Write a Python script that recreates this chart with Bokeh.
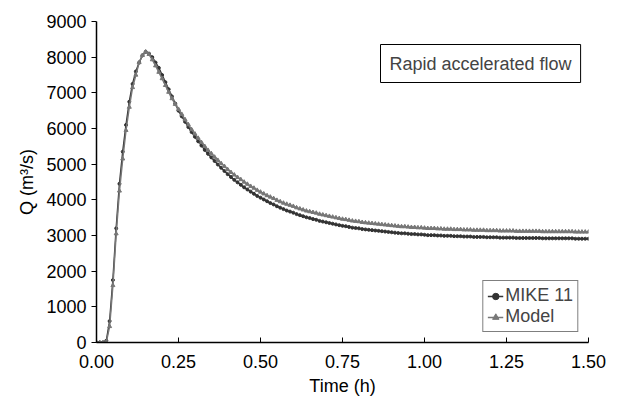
from bokeh.plotting import figure
from bokeh.models import Label, Range1d, FixedTicker, Legend, LegendItem
from bokeh.embed import file_html
from bokeh.resources import INLINE

time_h = [round(i * 0.01, 2) for i in range(151)]

mike11 = [
    0, 0, 0, 50, 600, 1750, 3200, 4450, 5350, 6100, 6750, 7250, 7600, 7850, 8050, 8150,
    8100, 8000, 7850, 7700, 7500, 7300, 7100, 6900, 6700,
    6500, 6340, 6190, 6040, 5900, 5770, 5640, 5520, 5400, 5290, 5190, 5090, 4990, 4900, 4810,
    4720, 4640, 4560, 4490, 4420, 4350, 4290, 4230, 4170, 4110, 4060, 4010, 3960, 3910, 3870,
    3820, 3780, 3740, 3700, 3670, 3640, 3600, 3570, 3540, 3510, 3490, 3460, 3440, 3410, 3390,
    3370, 3350, 3330, 3310, 3290, 3270, 3260, 3240, 3220, 3210, 3200, 3180, 3170, 3160, 3150,
    3140, 3130, 3120, 3110, 3100, 3090, 3080, 3070, 3060, 3060, 3050, 3040, 3040, 3030, 3030,
    3020, 3010, 3010, 3010, 3000, 3000, 2990, 2990, 2990, 2980, 2980, 2980, 2970, 2970, 2970,
    2960, 2960, 2960, 2960, 2950, 2950, 2950, 2950, 2940, 2940, 2940, 2940, 2940, 2930, 2930,
    2930, 2930, 2930, 2930, 2930, 2930, 2920, 2920, 2920, 2920, 2920, 2920, 2920, 2920, 2920,
    2920, 2910, 2910, 2910, 2910, 2910,
]

model = [
    0, 0, 0, 20, 450, 1600, 3050, 4250, 5150, 5950, 6600, 7150, 7500, 7850, 8050, 8150,
    8080, 7930, 7760, 7580, 7400, 7210, 7020, 6840, 6680,
    6540, 6400, 6250, 6110, 5970, 5850, 5730, 5610, 5500, 5390, 5300, 5200, 5110, 5020, 4940,
    4850, 4770, 4700, 4630, 4570, 4500, 4440, 4380, 4330, 4270, 4220, 4170, 4120, 4080, 4040,
    3990, 3950, 3910, 3880, 3850, 3820, 3780, 3750, 3720, 3690, 3670, 3650, 3630, 3600, 3580,
    3560, 3540, 3520, 3500, 3480, 3460, 3450, 3430, 3410, 3400, 3390, 3370, 3360, 3350, 3340,
    3330, 3320, 3310, 3300, 3290, 3280, 3270, 3260, 3250, 3250, 3240, 3230, 3230, 3220, 3220,
    3210, 3200, 3200, 3200, 3190, 3190, 3180, 3180, 3180, 3170, 3170, 3170, 3160, 3160, 3160,
    3150, 3150, 3150, 3150, 3140, 3140, 3140, 3140, 3130, 3130, 3130, 3130, 3130, 3120, 3120,
    3120, 3120, 3120, 3120, 3120, 3120, 3110, 3110, 3110, 3110, 3110, 3110, 3110, 3110, 3110,
    3110, 3100, 3100, 3100, 3100, 3100,
]

x_ticks = [0, 0.25, 0.5, 0.75, 1.0, 1.25, 1.5]
y_ticks = list(range(0, 9001, 1000))

FONT = "Liberation Sans"

p = figure(width=610, height=398, output_backend="svg", toolbar_location=None,
           x_range=Range1d(0, 1.5), y_range=Range1d(0, 9000),
           min_border_left=96, min_border_right=22, min_border_top=21, min_border_bottom=48)
p.grid.visible = False
p.outline_line_color = None

p.xaxis.ticker = FixedTicker(ticks=x_ticks)
p.yaxis.ticker = FixedTicker(ticks=y_ticks)
p.xaxis.major_label_overrides = {t: f"{t:.2f}" for t in x_ticks}
p.xaxis.axis_label = "Time (h)"
p.yaxis.axis_label = "Q (m³/s)"
for ax in (p.xaxis, p.yaxis):
    ax.axis_line_color = "black"
    ax.axis_line_width = 1.5
    ax.major_tick_line_color = "black"
    ax.minor_tick_line_color = None
    ax.major_label_text_font = FONT
    ax.major_label_text_font_size = "18px"
    ax.major_label_text_color = "black"
    ax.axis_label_text_font = FONT
    ax.axis_label_text_font_size = "18px"
    ax.axis_label_text_font_style = "normal"
    ax.axis_label_text_color = "black"
p.xaxis.major_tick_in = 5
p.xaxis.major_tick_out = 0
p.yaxis.major_tick_in = 0
p.yaxis.major_tick_out = 5
p.xaxis.major_label_standoff = 12
p.xaxis.axis_label_standoff = 5
p.yaxis.axis_label_standoff = 6

l1 = p.line(time_h, mike11, line_color="#333333", line_width=1.5)
m1 = p.scatter(time_h, mike11, marker="circle", size=3, color="#333333")
l2 = p.line(time_h, model, line_color="#777777", line_width=1.5)
m2 = p.scatter(time_h, model, marker="triangle", size=4, color="#777777")

legend = Legend(items=[LegendItem(label="MIKE 11", renderers=[l1, m1]),
                       LegendItem(label="Model", renderers=[l2, m2])],
                location="bottom_right", border_line_color="black", border_line_width=1,
                label_text_font=FONT, label_text_font_size="18px", glyph_width=16,
                label_standoff=2, padding=4, spacing=0, margin=10, label_height=18)
p.add_layout(legend)

p.add_layout(Label(x=284, y=260, x_units="screen", y_units="screen",
                   text="Rapid accelerated flow", text_font=FONT, text_font_size="18px",
                   border_line_color="black", border_line_width=1,
                   background_fill_color="white", padding=9))

open("out.html", "w").write(file_html(p, INLINE))
